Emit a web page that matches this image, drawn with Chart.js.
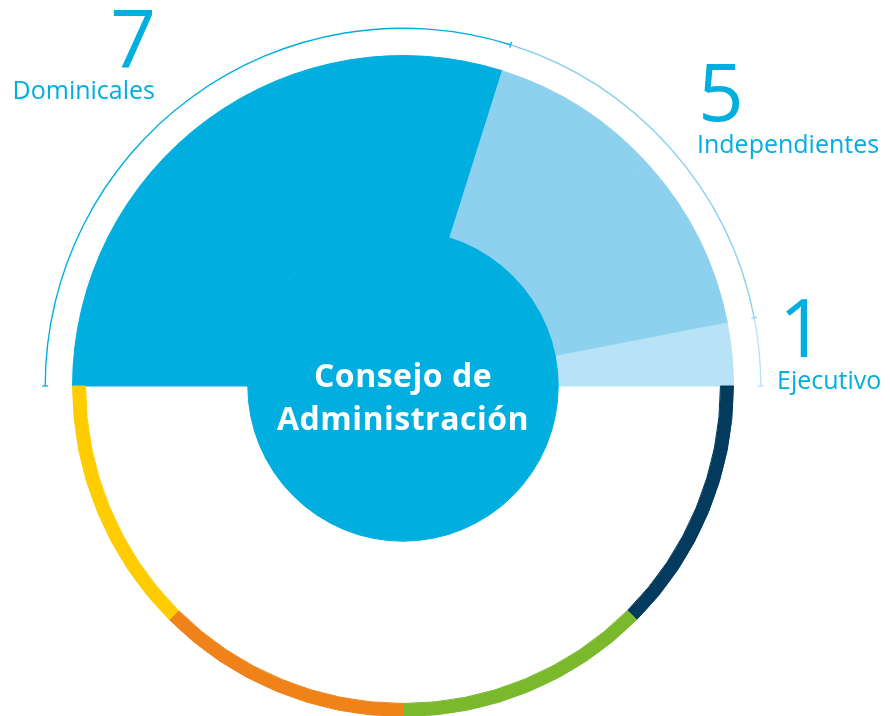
<!DOCTYPE html>
<html lang="es">
<head>
<meta charset="utf-8">
<title>Consejo de Administración</title>
<script src="https://cdn.jsdelivr.net/npm/chart.js@4.4.1/dist/chart.umd.min.js"></script>
<style>
    html, body { margin: 0; padding: 0; background: #fff; overflow: hidden; }
    #wrap { position: relative; width: 890px; height: 716px; overflow: hidden; }
    #grafico { position: absolute; left: 0; top: 0; }
    #textos { position: absolute; left: 0; top: 0; font-family: "Open Sans", sans-serif; }
    .num { font-size: 80px; fill: #00AEDF; }
    .cat { font-size: 25px; fill: #00AEDF; }
    .centro { font-size: 32px; font-weight: 700; fill: #fff; letter-spacing: 0.5px; }
</style>
</head>
<body>
<div id="wrap">
    <canvas id="grafico" width="890" height="800" style="width:890px;height:800px"></canvas>
    <svg id="textos" width="890" height="716"></svg>
</div>
<script>
// Datos
const categorias = ['Dominicales', 'Independientes', 'Ejecutivo'];
const consejeros = [7, 5, 1];
// tamaño de cada sector tal como aparece dibujado (grados del semicírculo)
const sectorGrados = [107.5, 61.5, 11];
const colores = ['#00AEDF', '#8DD1EE', '#B8E2F6'];
// semicírculo inferior: cuatro cuartos iguales (de derecha a izquierda)
const anilloValores = [45, 45, 45, 45];
const anilloColores = ['#023B5E', '#7AB82C', '#EF8219', '#FFCC00'];
const tituloCentro = ['Consejo de', 'Administración'];

const vacio = 'rgba(0,0,0,0)';

// Marcas pequeñas en la línea exterior
const marcasLinea = {
    id: 'marcasLinea',
    afterDatasetsDraw(chart) {
        const ctx = chart.ctx;
        const arcos = chart.getDatasetMeta(0).data.slice(0, categorias.length);
        ctx.save();
        ctx.lineWidth = 1.3;
        const marca = (x, y, ang, r, color) => {
            ctx.strokeStyle = color;
            ctx.beginPath();
            ctx.moveTo(x + Math.cos(ang) * (r - 3), y + Math.sin(ang) * (r - 3));
            ctx.lineTo(x + Math.cos(ang) * (r + 3), y + Math.sin(ang) * (r + 3));
            ctx.stroke();
        };
        arcos.forEach((arco, i) => {
            const p = arco.getProps(['x', 'y', 'startAngle', 'endAngle', 'innerRadius', 'outerRadius'], true);
            const r = (p.innerRadius + p.outerRadius) / 2;
            if (i === 0) marca(p.x, p.y, p.startAngle, r, colores[0]);
            marca(p.x, p.y, p.endAngle, r, colores[i]);
        });
        ctx.restore();
    }
};

const ctx = document.getElementById('grafico').getContext('2d');
const chart = new Chart(ctx, {
    type: 'pie',
    data: {
        labels: [...categorias, 'a', 'b', 'c', 'd'],
        datasets: [
            { // línea fina exterior
                data: [...sectorGrados, 180],
                backgroundColor: [...colores, vacio],
                borderWidth: 0,
                weight: 1.4
            },
            { // hueco
                data: [360],
                backgroundColor: [vacio],
                borderWidth: 0,
                weight: 26.6
            },
            { // anillo de colores
                data: [...sectorGrados, ...anilloValores],
                backgroundColor: [...colores, ...anilloColores],
                borderColor: [...colores, ...anilloColores],
                borderWidth: 1,
                weight: 13
            },
            { // sectores
                data: [...sectorGrados, 180],
                backgroundColor: [...colores, vacio],
                borderColor: [...colores, vacio],
                borderWidth: 1,
                weight: 162
            },
            { // círculo central
                data: [360],
                backgroundColor: [colores[0]],
                borderColor: [colores[0]],
                borderWidth: 1,
                weight: 155,
                order: -1
            }
        ]
    },
    options: {
        responsive: false,
        animation: false,
        events: [],
        rotation: -90,
        circumference: 360,
        hoverOffset: 0,
        offset: 0,
        layout: { padding: { left: 44.5, top: 27.5, right: 128.5, bottom: 55.5 } },
        plugins: {
            legend: { display: false },
            tooltip: { enabled: false }
        }
    },
    plugins: [marcasLinea]
});

// Textos
const svg = document.getElementById('textos');
function texto(str, x, y, clase, anchor) {
    const t = document.createElementNS('http://www.w3.org/2000/svg', 'text');
    t.setAttribute('x', x);
    t.setAttribute('y', y);
    t.setAttribute('class', clase);
    t.setAttribute('text-anchor', anchor);
    t.textContent = str;
    svg.appendChild(t);
}
texto(consejeros[0], 156, 68, 'num', 'end');
texto(categorias[0], 155, 99, 'cat', 'end');
texto(consejeros[1], 698, 121, 'num', 'start');
texto(categorias[1], 697, 153, 'cat', 'start');
texto(consejeros[2], 779, 357, 'num', 'start');
texto(categorias[2], 777, 389, 'cat', 'start');
texto(tituloCentro[0], 403, 387, 'centro', 'middle');
texto(tituloCentro[1], 403, 430, 'centro', 'middle');
</script>
</body>
</html>
